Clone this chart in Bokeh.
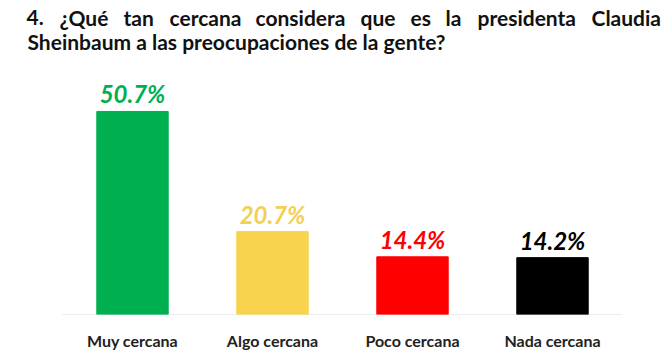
from bokeh.plotting import figure
from bokeh.models import ColumnDataSource, Label, FactorRange
from bokeh.embed import file_html
from bokeh.resources import INLINE

categories = ["Muy cercana", "Algo cercana", "Poco cercana", "Nada cercana"]
values = [50.7, 20.7, 14.4, 14.2]
labels = ["50.7%", "20.7%", "14.4%", "14.2%"]
colors = ["#00B050", "#F7D34E", "#FF0000", "#000000"]
label_colors = ["#00B050", "#F2CF55", "#FF0000", "#000000"]

title_line1 = ["4.", "¿Qué", "tan", "cercana", "considera", "que", "es", "la", "presidenta", "Claudia"]
title_line1_x = [26, 59, 123, 169, 255, 360, 410, 445, 477, 591]
title_line2 = "Sheinbaum a las preocupaciones de la gente?"

FL = 14  # frame left border
src = ColumnDataSource(dict(cat=categories, val=values, lab=labels, col=colors, lcol=label_colors))

p = figure(width=670, height=352,
           x_range=FactorRange(*categories, range_padding=96 / 560),
           y_range=(0, 78.4), output_backend="svg", toolbar_location=None,
           min_border_left=FL, min_border_right=0, min_border_top=0, min_border_bottom=33)
p.outline_line_color = None
p.grid.visible = False
p.yaxis.visible = False
p.background_fill_color = "white"
p.border_fill_color = "white"

# baseline from the first category's left edge to the last one's right edge
p.segment(x0=[(categories[0], -0.5)], x1=[(categories[-1], 0.5)], y0=[0], y1=[0],
          line_color="#D9D9D9", line_width=1)

p.vbar(x="cat", top="val", width=0.51, color="col", source=src)
p.text(x="cat", y="val", text="lab", text_color="lcol", source=src,
       text_align="center", text_baseline="bottom", y_offset=-3,
       text_font={"value": "Lato"}, text_font_size="24px", text_font_style="bold italic")

ax = p.xaxis[0]
ax.axis_line_color = None
ax.major_tick_line_color = None
ax.minor_tick_line_color = None
ax.major_label_standoff = 10
ax.major_label_text_font = "Lato"
ax.major_label_text_font_size = "16px"
ax.major_label_text_font_style = "bold"
ax.major_label_text_color = "#222222"

for w, x in zip(title_line1, title_line1_x):
    p.add_layout(Label(x=x - FL, y=319 - 22, x_units="screen", y_units="screen", text=w,
                       text_font="Lato", text_font_size="21px", text_font_style="bold",
                       text_color="#111111", text_baseline="alphabetic"))
p.add_layout(Label(x=27 - FL, y=319 - 46, x_units="screen", y_units="screen", text=title_line2,
                   text_font="Lato", text_font_size="21px", text_font_style="bold",
                   text_color="#111111", text_baseline="alphabetic"))

open("out.html", "w").write(file_html(p, INLINE))
